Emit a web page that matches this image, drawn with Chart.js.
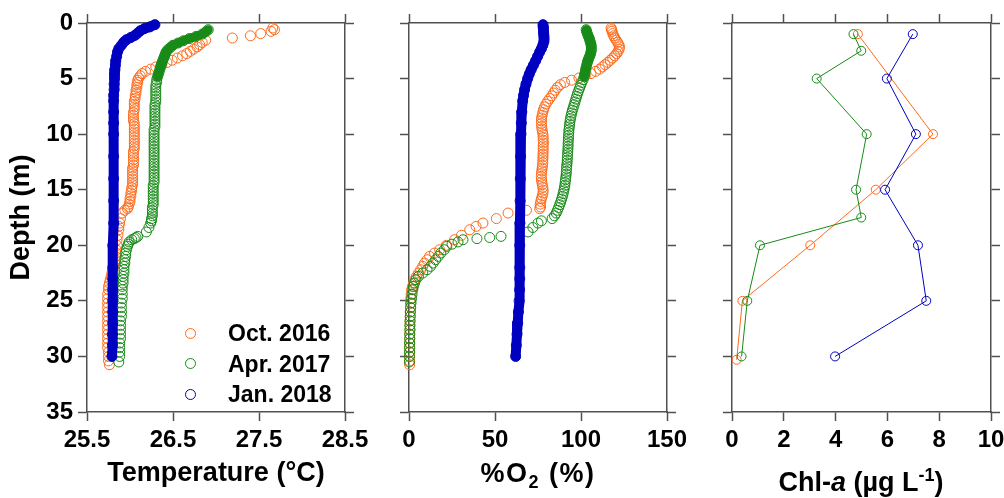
<!DOCTYPE html>
<html>
<head>
<meta charset="utf-8">
<script src="https://cdn.jsdelivr.net/npm/chart.js"></script>
<style>
body{margin:0;width:1004px;height:498px;overflow:hidden;background:#fff;position:relative;font-family:"Liberation Sans",Arial,sans-serif}
canvas{position:absolute;top:0}
.xtitle{position:absolute;width:300px;text-align:center;font-weight:bold;font-size:27px;line-height:30px;white-space:nowrap;color:#000}
.xtitle sub,.xtitle sup{font-size:18px;line-height:0}
.leg{position:absolute;font-weight:bold;font-size:23px;line-height:26px;white-space:nowrap;color:#000}
.dot{position:absolute;width:9px;height:9px;border:1px solid;border-radius:50%}
</style>
</head>
<body>
<canvas id="tempChart" width="380" height="498" style="left:0px"></canvas>
<canvas id="oxyChart" width="340" height="498" style="left:370px"></canvas>
<canvas id="chlChart" width="340" height="498" style="left:700px"></canvas>
<div class="xtitle" style="left:388px;top:458px;letter-spacing:1.5px">%O<sub>2</sub> (%)</div>
<div class="xtitle" style="left:711px;top:467px">Chl-<i>a</i> (µg L<sup>-1</sup>)</div>
<div id="legend"></div>
<script>
// series names / colours (Oct first, Jan last)
var seriesNames = ['Oct. 2016', 'Apr. 2017', 'Jan. 2018'];
var seriesColors = ['#ff6a1a', '#178a17', '#0000c0'];

// tick labels
var depthTicks = [0, 5, 10, 15, 20, 25, 30, 35];
var tempTicks = [25.5, 26.5, 27.5, 28.5];
var oxyTicks = [0, 50, 100, 150];
var chlTicks = [0, 2, 4, 6, 8, 10];

// CTD profiles, Oct. 2016 (depth m, temperature degC, O2 %)
var depthOct = [0.45,0.6,0.75,0.95,1.15,1.35,1.55,1.75,1.95,2.15,2.35,2.55,2.75,2.95,3.15,3.35,3.55,3.75,3.95,4.15,
  4.35,4.55,4.75,4.95,5.15,5.35,5.55,5.8,6.05,6.3,6.55,6.8,7.05,7.3,7.55,7.8,8.05,8.3,8.55,8.8,
  9.05,9.3,9.55,9.8,10.05,10.3,10.55,10.8,11.05,11.3,11.55,11.8,12.05,12.3,12.55,12.8,13.05,13.3,13.55,13.8,
  14.05,14.3,14.55,14.8,15.05,15.3,15.55,15.8,16.05,16.3,16.55,16.7,16.85,17.1,17.6,18.0,18.3,18.6,19.1,19.5,
  20.0,20.4,20.7,21.0,21.3,21.6,21.9,22.2,22.5,22.8,23.1,23.4,23.7,24.0,24.4,24.8,25.2,25.6,26.0,26.4,
  26.8,27.2,27.6,28.0,28.4,28.8,29.2,29.6,30.0,30.4,30.75];
var tempOct = [27.66,27.68,27.64,27.52,27.40,27.19,26.88,26.84,26.81,26.78,26.74,26.70,26.66,26.61,26.55,26.49,26.43,26.37,26.30,26.24,
  26.18,26.14,26.12,26.10,26.09,26.09,26.08,26.08,26.07,26.07,26.06,26.06,26.05,26.05,26.05,26.05,26.04,26.04,26.04,26.04,
  26.05,26.05,26.05,26.05,26.05,26.05,26.05,26.05,26.05,26.05,26.04,26.04,26.04,26.04,26.04,26.04,26.03,26.03,26.03,26.03,
  26.03,26.03,26.03,26.02,26.02,26.01,26.01,26.00,26.00,25.99,25.98,25.97,25.94,25.91,25.89,25.88,25.87,25.87,25.86,25.85,
  25.85,25.84,25.84,25.83,25.83,25.82,25.81,25.80,25.79,25.78,25.77,25.76,25.75,25.75,25.74,25.74,25.74,25.74,25.74,25.74,
  25.74,25.74,25.74,25.74,25.74,25.74,25.74,25.75,25.75,25.75,25.76];
var oxyOct = [117.5,117.8,118.0,118.5,119.0,119.6,120.5,121.3,122.0,122.4,122.2,121.6,120.7,119.6,118.4,117.0,115.6,114.0,112.5,110.8,
  108.5,105.8,102.5,98.8,94.5,90.5,88.0,86.3,85.0,84.0,83.0,81.8,80.6,79.6,78.8,78.2,77.8,77.4,77.1,77.0,
  77.0,77.1,77.3,77.6,77.9,78.0,78.0,78.1,78.0,78.0,78.0,77.9,77.9,77.8,77.8,77.6,77.4,77.2,77.0,76.9,
  77.0,77.2,77.5,77.8,78.0,77.9,77.5,77.0,76.6,76.3,76.5,76.0,68.3,57.6,50.8,43.0,39.0,35.3,30.5,26.5,
  21.7,17.8,14.8,12.0,10.5,9.0,8.0,6.8,5.5,4.3,3.3,2.6,2.0,1.5,1.2,1.0,0.9,0.8,0.7,0.7,
  0.6,0.6,0.6,0.5,0.5,0.5,0.5,0.5,0.4,0.4,0.4];

// Apr. 2017
var depthApr = [0.6,0.8,1.0,1.2,1.4,1.6,1.8,2.0,2.2,2.4,2.6,2.8,3.0,3.2,3.4,3.6,3.85,4.1,4.35,4.6,
  4.85,5.1,5.35,5.6,5.85,6.1,6.35,6.6,6.85,7.1,7.35,7.6,7.85,8.1,8.35,8.6,8.85,9.1,9.35,9.6,
  9.85,10.1,10.35,10.6,10.85,11.1,11.35,11.6,11.85,12.1,12.35,12.6,12.85,13.1,13.35,13.6,13.85,14.1,14.35,14.6,
  14.85,15.1,15.35,15.6,15.85,16.1,16.35,16.6,16.85,17.1,17.35,17.6,17.8,18.0,18.4,18.8,19.2,19.3,19.4,19.5,
  19.7,19.9,20.1,20.4,20.7,21.0,21.3,21.6,21.9,22.2,22.5,22.8,23.1,23.4,23.7,24.0,24.4,24.8,25.2,25.6,
  26.0,26.4,26.8,27.2,27.6,28.0,28.4,28.8,29.2,29.6,30.0,30.5];
var tempApr = [26.91,26.88,26.84,26.77,26.69,26.62,26.56,26.50,26.47,26.44,26.42,26.41,26.40,26.39,26.38,26.37,26.36,26.35,26.34,26.33,
  26.32,26.31,26.31,26.30,26.30,26.30,26.30,26.30,26.30,26.30,26.29,26.29,26.29,26.29,26.29,26.29,26.29,26.29,26.29,26.28,
  26.28,26.28,26.28,26.28,26.28,26.28,26.28,26.28,26.28,26.28,26.28,26.28,26.28,26.28,26.28,26.28,26.28,26.28,26.28,26.27,
  26.27,26.27,26.27,26.27,26.27,26.27,26.27,26.26,26.26,26.26,26.26,26.25,26.25,26.24,26.22,26.19,26.09,26.07,26.05,26.02,
  25.99,25.98,25.97,25.96,25.95,25.95,25.94,25.94,25.93,25.93,25.93,25.92,25.92,25.92,25.91,25.91,25.91,25.91,25.90,25.90,
  25.90,25.90,25.89,25.89,25.89,25.89,25.89,25.88,25.88,25.88,25.88,25.87];
var oxyApr = [103.0,103.3,103.8,104.3,104.8,105.2,105.6,105.9,106.0,106.0,105.8,105.5,105.0,104.5,104.0,103.6,103.2,102.8,102.5,102.2,
  101.8,101.2,100.5,99.8,99.2,98.6,98.0,97.5,97.0,96.5,96.0,95.5,95.0,94.6,94.2,93.9,93.6,93.4,93.2,93.0,
  92.9,92.8,92.7,92.6,92.5,92.5,92.4,92.3,92.2,92.1,92.0,91.9,91.7,91.6,91.5,91.4,91.2,91.0,90.8,90.6,
  90.3,90.0,89.6,89.2,88.7,88.2,87.6,87.0,86.3,85.6,84.6,83.2,77.0,75.0,72.0,69.2,53.5,46.9,39.5,31.4,
  28.5,25.0,22.0,20.5,18.5,17.0,15.5,14.0,12.5,10.5,8.0,5.5,4.0,3.2,2.6,2.2,1.8,1.5,1.2,1.0,
  0.8,0.7,0.6,0.5,0.5,0.4,0.4,0.3,0.3,0.3,0.2,0.2];

// Jan. 2018
var depthJan = [0.15,0.35,0.5,0.7,0.9,1.1,1.3,1.5,1.7,2.0,2.3,2.6,3.0,3.4,3.8,4.2,4.6,5.0,5.5,6.0,
  6.5,7.0,8.0,9.0,10.0,12.0,14.0,16.0,18.0,20.0,22.0,23.0,24.0,25.0,26.0,27.0,28.0,29.0,30.0];
var tempJan = [26.29,26.23,26.17,26.12,26.09,26.06,26.01,25.96,25.93,25.90,25.87,25.855,25.845,25.835,25.83,25.825,25.82,25.82,25.815,25.815,
  25.81,25.81,25.81,25.81,25.81,25.81,25.81,25.81,25.81,25.80,25.80,25.80,25.80,25.80,25.80,25.80,25.795,25.795,25.79];
var oxyJan = [77.9,78.0,78.1,78.2,78.3,78.4,78.5,78.5,78.4,77.8,77.0,76.0,74.8,73.6,72.3,71.0,69.9,69.0,68.0,67.2,
  66.6,66.1,65.6,65.3,65.1,64.9,64.7,64.6,64.5,64.4,64.4,64.4,64.3,64.0,63.6,63.2,62.8,62.4,62.0];

// Chl-a bottle samples
var chlDepthOct = [1, 10, 15, 20, 25, 30.3];
var chlOct = [4.86, 7.76, 5.55, 3.02, 0.40, 0.18];
var chlDepthApr = [1, 2.5, 5, 10, 15, 17.5, 20, 25, 30];
var chlApr = [4.69, 4.99, 3.27, 5.20, 4.79, 4.99, 1.08, 0.59, 0.37];
var chlDepthJan = [1, 5, 10, 15, 20, 25, 30];
var chlJan = [6.98, 5.98, 7.10, 5.91, 7.18, 7.50, 3.98];

var fontFamily = '"Liberation Sans", Arial, sans-serif';
var axisColor = '#505050';
var noFill = 'rgba(0,0,0,0)';

function toPoints(xs, ds){
  return ds.map(function(d, i){ return {x: xs[i], y: d}; });
}

// one axis; size = fixed box width/height so the plot areas line up with the picture
function makeAxis(axis, pos, min, max, tickVals, showLabels, size, fmt, reverse){
  return {
    type: 'linear', axis: axis, position: pos, min: min, max: max, reverse: !!reverse,
    afterBuildTicks: function(s){ s.ticks = tickVals.map(function(v){ return {value: v}; }); },
    afterFit: function(s){ if (axis === 'x') s.height = size; else s.width = size; },
    ticks: {display: showLabels, color: '#000', padding: 5, autoSkip: false, maxRotation: 0,
      font: {family: fontFamily, size: 24, weight: 'bold'}, callback: fmt},
    grid: {drawOnChartArea: false, drawTicks: true, tickLength: 9, tickColor: axisColor, tickWidth: 1.5, color: axisColor},
    border: {display: true, color: axisColor, width: 1.5}
  };
}

function profileSets(xsList){
  var ds = [depthOct, depthApr, depthJan];
  var sets = [];
  for (var i = 0; i < 3; i++){
    var col = seriesColors[i];
    var set = {
      label: seriesNames[i], data: toPoints(xsList[i], ds[i]), order: 3 - i, clip: false,
      pointRadius: 5, pointHoverRadius: 5, pointBorderWidth: 1, pointBorderColor: col, pointBackgroundColor: noFill,
      showLine: false
    };
    if (i === 1){ // solid looking top of the April cast
      set.showLine = true; set.borderWidth = 9; set.borderColor = col;
      set.borderCapStyle = 'round'; set.borderJoinStyle = 'round';
      set.segment = {borderColor: function(ctx){ return ctx.p1.parsed.y <= 5 ? seriesColors[1] : noFill; }};
    }
    if (i === 2){ // Jan cast is very dense, draws as a solid band
      set.showLine = true; set.borderWidth = 10; set.borderColor = col;
      set.borderCapStyle = 'round'; set.borderJoinStyle = 'round';
    }
    sets.push(set);
  }
  return sets;
}

function chlSets(){
  var xs = [chlOct, chlApr, chlJan];
  var ds = [chlDepthOct, chlDepthApr, chlDepthJan];
  return xs.map(function(x, i){
    return {label: seriesNames[i], data: toPoints(x, ds[i]), order: 3 - i, clip: false, showLine: true,
      borderColor: seriesColors[i], borderWidth: 1, pointRadius: 4.5, pointHoverRadius: 4.5,
      pointBorderWidth: 1, pointBorderColor: seriesColors[i], pointBackgroundColor: noFill};
  });
}

var fmtInt = function(v){ return String(v); };
var fmtOne = function(v){ return Number(v).toFixed(1); };

function buildChart(id, sets, xMin, xMax, xTicks, xFmt, leftW, rightW, xTitle, yTitle){
  var x = makeAxis('x', 'bottom', xMin, xMax, xTicks, true, 86, xFmt);
  var x2 = makeAxis('x', 'top', xMin, xMax, xTicks, false, 23, xFmt);
  var y = makeAxis('y', 'left', 0, 35, depthTicks, !!yTitle, leftW, fmtInt, true);
  var y2 = makeAxis('y', 'right', 0, 35, depthTicks, false, rightW, fmtInt, true);
  if (xTitle){
    x.title = {display: true, text: xTitle, color: '#000', font: {family: fontFamily, size: 27, weight: 'bold'}, padding: {top: 0, bottom: 8}};
  }
  if (yTitle){
    y.title = {display: true, text: yTitle, color: '#000', font: {family: fontFamily, size: 27, weight: 'bold'}, padding: {top: 5, bottom: 0}};
  }
  return new Chart(document.getElementById(id), {
    type: 'scatter',
    data: {datasets: sets},
    options: {
      responsive: false, animation: false, events: [],
      layout: {padding: 0},
      scales: {x: x, x2: x2, y: y, y2: y2},
      plugins: {legend: {display: false}, tooltip: {enabled: false}}
    }
  });
}

buildChart('tempChart', profileSets([tempOct, tempApr, tempJan]), 25.5, 28.5, tempTicks, fmtOne, 87, 35, 'Temperature (°C)', 'Depth (m)');
buildChart('oxyChart', profileSets([oxyOct, oxyApr, oxyJan]), 0, 150, oxyTicks, fmtInt, 39, 43, null, null);
buildChart('chlChart', chlSets(), 0, 10, chlTicks, fmtInt, 32, 49, null, null);

// legend inside the temperature panel
var legendRows = [333, 363.5, 394];
var legend = document.getElementById('legend');
for (var i = 0; i < seriesNames.length; i++){
  var dot = document.createElement('div');
  dot.className = 'dot';
  dot.style.borderColor = seriesColors[i];
  dot.style.left = (190 - 5.5) + 'px';
  dot.style.top = (legendRows[i] - 5.5) + 'px';
  legend.appendChild(dot);
  var txt = document.createElement('div');
  txt.className = 'leg';
  txt.textContent = seriesNames[i];
  txt.style.left = '228px';
  txt.style.top = (legendRows[i] - 12.7) + 'px';
  legend.appendChild(txt);
}
</script>
</body>
</html>
